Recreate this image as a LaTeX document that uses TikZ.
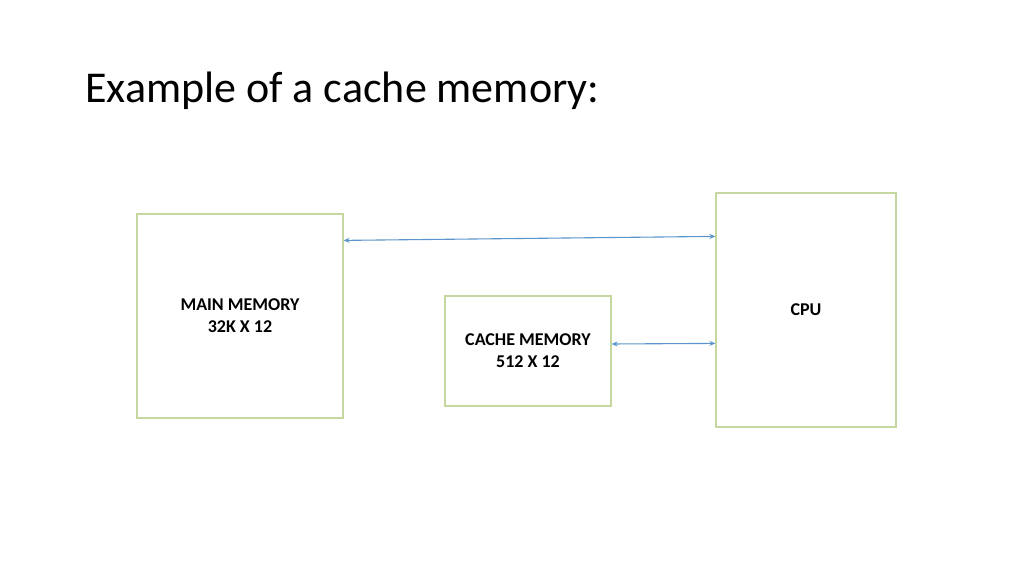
\documentclass[tikz,border=0pt]{standalone}
\usepackage{fontspec}
\setmainfont{Carlito}
\usepackage{xcolor}
\definecolor{box edge}{RGB}{196,216,160}
\definecolor{link line}{RGB}{91,150,205}
\usetikzlibrary{arrows.meta}
\tikzset{unit/.style={draw=box edge, line width=0.6pt, inner sep=0pt, align=center,
      font=\fontsize{9}{11}\selectfont\bfseries},
    link/.style={draw=link line, line width=0.55pt, {Stealth[length=3pt,width=2.5pt]}-{Stealth[length=3pt,width=2.5pt]}}}

\begin{document}
\begin{tikzpicture}[x=0.5pt, y=-0.5pt]
    \useasboundingbox[fill=white] (0,0) rectangle (1024,576);
    \node[anchor=base west, inner sep=0pt, font=\fontsize{22}{26}\selectfont] (title) at (85,103)
      {Example of a cache memory:};
    \node[unit, minimum width=103pt, minimum height=102pt] (main) at (240,316)
      {MAIN MEMORY\\32K X 12};
    \node[unit, minimum width=83pt, minimum height=55pt] (cache) at (528,351)
      {CACHE MEMORY\\512 X 12};
    \node[unit, minimum width=90pt, minimum height=117pt] (cpu) at (806,310)
      {CPU};
    \draw[link] ([yshift=-13.5pt]main.north east) -- ([yshift=-22pt]cpu.north west);
    \draw[link] ([yshift=3.5pt]cache.east) -- ([yshift=-75.5pt]cpu.north west);
\end{tikzpicture}
\end{document}
